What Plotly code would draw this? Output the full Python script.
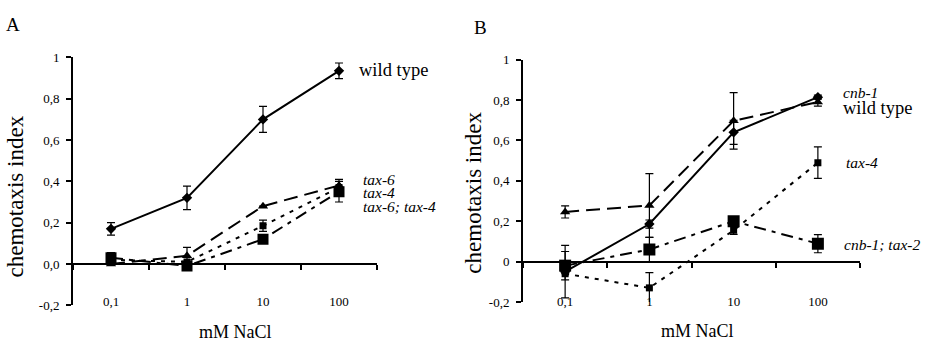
import plotly.graph_objects as go

# NaCl concentrations (mM) shown as evenly spaced categories
conc = ["0,1", "1", "10", "100"]

# Panel A
a_wt = [0.17, 0.32, 0.70, 0.935]
a_wt_err = [0.03, 0.057, 0.063, 0.038]
a_tax6 = [0.00, 0.04, 0.28, 0.38]
a_tax6_err = [0.0, 0.04, 0.0, 0.03]
a_tax4 = [0.02, 0.01, 0.185, 0.37]
a_tax4_err = [0.0, 0.0, 0.027, 0.0]
a_tax6tax4 = [0.03, -0.01, 0.12, 0.35]
a_tax6tax4_err = [0.025, 0.0, 0.0, 0.05]

# Panel B
b_wt = [-0.05, 0.186, 0.64, 0.814]
b_wt_err = [0.13, 0.02, 0.06, 0.01]
b_cnb1 = [0.246, 0.278, 0.697, 0.79]
b_cnb1_err = [0.03, 0.158, 0.14, 0.02]
b_tax4 = [-0.06, -0.13, 0.155, 0.49]
b_tax4_err = [0.0, 0.075, 0.02, 0.078]
b_cnb1tax2 = [-0.02, 0.06, 0.20, 0.089]
b_cnb1tax2_err = [0.07, 0.06, 0.0, 0.045]

yticks_a = ["-0,2", "0,0", "0,2", "0,4", "0,6", "0,8", "1"]
yticks_b = ["-0,2", "0", "0,2", "0,4", "0,6", "0,8", "1"]
yvals = [-0.2, 0.0, 0.2, 0.4, 0.6, 0.8, 1.0]

W, H = 928, 348
FONT = "Liberation Serif"
YMIN, YMAX = -0.2, 1.0

xpos = list(range(len(conc)))
bounds = [i - 0.5 for i in range(len(conc) + 1)]

LONG = "14px,7px"
DOT = "4px,6px"
DASHDOT = "12px,6px,4px,6px"

fig = go.Figure()


def add_series(y, err, xa, ya, dash, symbol, size, width=2):
    fig.add_trace(go.Scatter(
        x=xpos, y=y, xaxis=xa, yaxis=ya, mode="lines+markers",
        line=dict(color="black", width=width, dash=dash),
        marker=dict(symbol=symbol, size=size, color="black"),
        error_y=dict(type="data", array=err, color="black",
                     thickness=1.2, width=4, visible=True),
        showlegend=False, hoverinfo="skip",
    ))


add_series(a_tax6tax4, a_tax6tax4_err, "x", "y", DASHDOT, "square", 11)
add_series(a_tax4, a_tax4_err, "x", "y", DOT, "square", 7)
add_series(a_tax6, a_tax6_err, "x", "y", LONG, "triangle-up", 9)
add_series(a_wt, a_wt_err, "x", "y", "solid", "diamond", 8)

add_series(b_cnb1tax2, b_cnb1tax2_err, "x2", "y2", DASHDOT, "square", 12)
add_series(b_tax4, b_tax4_err, "x2", "y2", DOT, "square", 7)
add_series(b_cnb1, b_cnb1_err, "x2", "y2", LONG, "triangle-up", 9)
add_series(b_wt, b_wt_err, "x2", "y2", "solid", "diamond", 8)

# empty helpers so the zero-line axes are drawn
for xa, ya in (("x3", "y"), ("x4", "y2")):
    fig.add_trace(go.Scatter(x=[], y=[], xaxis=xa, yaxis=ya, mode="none",
                             showlegend=False, hoverinfo="skip"))


def px_x(p):
    return p / W


def px_y(p):
    return 1 - p / H


domA_x = [px_x(73), px_x(377)]
domA_y = [px_y(311.7), px_y(52.7)]
domB_x = [px_x(523), px_x(860)]
domB_y = [px_y(308.3), px_y(55)]


def zero_pos(dom):
    return dom[0] + (0 - YMIN) / (YMAX - YMIN) * (dom[1] - dom[0])


tickfont = dict(family=FONT, size=13, color="black")


def label_axis(dom_x, ya, label_px):
    return dict(domain=dom_x, range=[-0.5, len(conc) - 0.5], anchor="free",
                position=px_y(label_px), showline=False, showgrid=False,
                zeroline=False, ticks="", tickmode="array", tickvals=xpos,
                ticktext=conc, tickfont=tickfont, fixedrange=True)


def zero_axis(over, dom_y):
    return dict(overlaying=over, range=[-0.5, len(conc) - 0.5], anchor="free",
                position=zero_pos(dom_y), showline=True, linewidth=2,
                linecolor="black", ticks="outside", ticklen=5, tickwidth=1.5,
                tickcolor="black", tickmode="array", tickvals=bounds,
                showticklabels=False, showgrid=False, zeroline=False)


def y_axis(dom_y, anchor, text):
    return dict(domain=dom_y, range=[YMIN, YMAX], anchor=anchor,
                showline=True, linewidth=2, linecolor="black",
                ticks="outside", ticklen=5, tickwidth=1.5, tickcolor="black",
                tickmode="array", tickvals=yvals, ticktext=text,
                tickfont=tickfont, showgrid=False, zeroline=False,
                ticklabelstandoff=4)


fig.update_layout(
    width=W, height=H, margin=dict(l=0, r=0, t=0, b=0),
    paper_bgcolor="white", plot_bgcolor="white",
    font=dict(family=FONT, color="black"),
    xaxis=label_axis(domA_x, "y", 298),
    xaxis2=label_axis(domB_x, "y2", 298),
    xaxis3=zero_axis("x", domA_y),
    xaxis4=zero_axis("x2", domB_y),
    yaxis=y_axis(domA_y, "x", yticks_a),
    yaxis2=y_axis(domB_y, "x2", yticks_b),
)

ann = []


def text(x, y, s, size, xanchor="center", italic=False, angle=0):
    ann.append(dict(x=x, y=y, xref="paper", yref="paper", text=s,
                    showarrow=False, xanchor=xanchor, yanchor="middle",
                    textangle=angle, borderpad=0,
                    font=dict(family=FONT, size=size, color="black",
                              style="italic" if italic else "normal")))


# panel letters
text(px_x(13), px_y(18.5), "A", 19)
text(px_x(481), px_y(21), "B", 19)

# axis titles
text(px_x(236), px_y(340), "mM NaCl", 18)
text(px_x(697), px_y(339), "mM NaCl", 18)
text(px_x(15), px_y(198), "chemotaxis index", 23, angle=-90)
text(px_x(474), px_y(194), "chemotaxis index", 23, angle=-90)

# series labels, panel A
text(px_x(358), px_y(66), "wild type", 18.5, xanchor="left")
text(px_x(362), px_y(180), "tax-6", 15.5, xanchor="left", italic=True)
text(px_x(362), px_y(194), "tax-4", 15.5, xanchor="left", italic=True)
text(px_x(362), px_y(208), "tax-6; tax-4", 15.5, xanchor="left", italic=True)

# series labels, panel B
text(px_x(842), px_y(89), "cnb-1", 15.5, xanchor="left", italic=True)
text(px_x(842), px_y(106), "wild type", 18.5, xanchor="left")
text(px_x(845), px_y(163), "tax-4", 15.5, xanchor="left", italic=True)
text(px_x(843), px_y(248), "cnb-1; tax-2", 15.5, xanchor="left", italic=True)

fig.update_layout(annotations=ann)

fig.write_html("out.html")
